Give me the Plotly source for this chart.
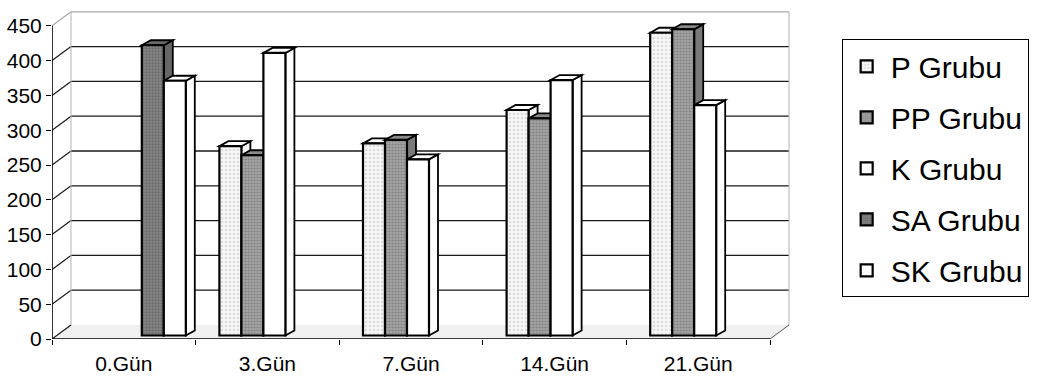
import plotly.graph_objects as go

# ---- data -------------------------------------------------------------
categories = ["0.Gün", "3.Gün", "7.Gün", "14.Gün", "21.Gün"]
series_names = ["P Grubu", "PP Grubu", "K Grubu", "SA Grubu", "SK Grubu"]
p_grubu = [None, 272, 276, 324, 435]
pp_grubu = [None, 259, 281, 312, 440]
k_grubu = [None, 406, 253, 367, 331]
sa_grubu = [417, None, None, None, None]
sk_grubu = [366, None, None, None, None]
y_ticks = [0, 50, 100, 150, 200, 250, 300, 350, 400, 450]

series_values = [p_grubu, pp_grubu, k_grubu, sa_grubu, sk_grubu]

# ---- styles -----------------------------------------------------------
front_styles = [
    dict(color="#f2f2f2", pattern=dict(shape=".", fgcolor="#c4c4c4", bgcolor="#f6f6f6", size=4, solidity=0.3)),
    dict(color="#9c9c9c", pattern=dict(shape=".", fgcolor="#5e5e5e", bgcolor="#a4a4a4", size=3, solidity=0.4)),
    dict(color="#ffffff"),
    dict(color="#7c7c7c", pattern=dict(shape=".", fgcolor="#4a4a4a", bgcolor="#888888", size=3, solidity=0.45)),
    dict(color="#ffffff"),
]
side_fill = ["#f4f4f4", "#7a7a7a", "#ffffff", "#666666", "#ffffff"]
top_fill = ["#ffffff", "#8a8a8a", "#ffffff", "#6a6a6a", "#ffffff"]

FONT = "Liberation Sans, Arial, sans-serif"

# ---- geometry of the 3-D projection (pixels) --------------------------
W, H = 1040, 378
L, R, T, B = 52, 250, 8, 39
cat_px = 143.6          # width of one category on the front plane
unit_px = 0.696         # pixels per value unit
wall_dx, wall_dy = 19, 14   # depth of the back wall
plane_dx, plane_dy = 7, 3.5  # offset of the bar plane from the front
bar_dx, bar_dy = 9, 5        # depth of a single column
bargap = 0.234

x_range = [-0.5, -0.5 + (W - L - R) / cat_px]
y_range = [0, (H - T - B) / unit_px]

ddx, ddy = wall_dx / cat_px, wall_dy / unit_px
sx, sy = plane_dx / cat_px, plane_dy / unit_px
bdx, bdy = bar_dx / cat_px, bar_dy / unit_px

n_cat = len(categories)
x_lo, x_hi = -0.5, n_cat - 0.5
v_top = y_ticks[-1]

shapes = []


def poly(pts, fill, line_color=None, width=0, xref="x", yref="y"):
    d = "M " + " L ".join(f"{px},{py}" for px, py in pts) + " Z"
    shapes.append(dict(type="path", path=d, xref=xref, yref=yref, layer="below",
                       fillcolor=fill,
                       line=dict(color=line_color or fill, width=width)))


def seg(x0, y0, x1, y1, color, width=1, xref="x", yref="y"):
    shapes.append(dict(type="line", x0=x0, y0=y0, x1=x1, y1=y1, xref=xref, yref=yref,
                       layer="below", line=dict(color=color, width=width)))


# back wall and floor
poly([(x_lo + ddx, ddy), (x_hi + ddx, ddy), (x_hi + ddx, v_top + ddy), (x_lo + ddx, v_top + ddy)], "#ffffff")
poly([(x_lo, 0), (x_hi, 0), (x_hi + ddx, ddy), (x_lo + ddx, ddy)], "#f0f0f0")

# gridlines on the back wall and their links to the value axis
for v in y_ticks:
    edge = v in (0, v_top)
    col = "#a8a8a8" if edge else "#1a1a1a"
    if v > 0:
        seg(x_lo + ddx, v + ddy, x_hi + ddx, v + ddy, col, 1.3)
    seg(x_lo, v, x_lo + ddx, v + ddy, "#a8a8a8" if v == v_top else "#1a1a1a", 1.2)
seg(x_lo + ddx, ddy, x_lo + ddx, v_top + ddy, "#b4b4b4", 1)
seg(x_hi + ddx, ddy, x_hi + ddx, v_top + ddy, "#b4b4b4", 1)
seg(x_hi, 0, x_hi + ddx, ddy, "#555555", 1)

# front axis lines
seg(x_lo, 0, x_lo, v_top, "#000000", 1.6)
seg(x_lo, 0, x_hi, 0, "#000000", 1.6)

# side and top faces of every column, left to right
slot = (1 - bargap) / len(series_values)
for i in range(n_cat):
    for j, vals in enumerate(series_values):
        v = vals[i]
        if v is None:
            continue
        xl = i - (1 - bargap) / 2 + j * slot
        xr = xl + slot
        poly([(xr, 0), (xr + bdx, bdy), (xr + bdx, v + bdy), (xr, v)], side_fill[j], "#000000", 1.8, "x2", "y2")
        poly([(xl, v), (xr, v), (xr + bdx, v + bdy), (xl + bdx, v + bdy)], top_fill[j], "#000000", 1.8, "x2", "y2")

fig = go.Figure()
for j, (name, vals) in enumerate(zip(series_names, series_values)):
    fig.add_trace(go.Bar(
        x=categories, y=vals, name=name, xaxis="x2", yaxis="y2",
        legendgroup=name,
        marker=dict(**front_styles[j], line=dict(color="#000000", width=2.2)),
        hoverinfo="skip",
    ))

fig.update_layout(
    width=W, height=H,
    margin=dict(l=L, r=R, t=T, b=B, pad=0, autoexpand=False),
    paper_bgcolor="#ffffff", plot_bgcolor="#ffffff",
    barmode="group", bargap=bargap, bargroupgap=0,
    font=dict(family=FONT, size=21, color="#000000"),
    xaxis=dict(range=x_range, tickmode="array", tickvals=list(range(n_cat)), ticktext=categories,
               showgrid=False, zeroline=False, showline=False, ticks="", ticklabelstandoff=10,
               automargin=False,
               minor=dict(tickmode="array", tickvals=[k - 0.5 for k in range(n_cat + 1)],
                          ticks="outside", ticklen=5, tickcolor="#000000", tickwidth=1.2, showgrid=False),
               tickfont=dict(size=21), fixedrange=True),
    yaxis=dict(range=y_range, tickmode="array", tickvals=y_ticks,
               showgrid=False, zeroline=False, showline=False, automargin=False,
               ticks="outside", ticklen=5, tickwidth=1.2, tickcolor="#000000",
               tickfont=dict(size=21), fixedrange=True),
    xaxis2=dict(overlaying="x", type="category", categoryorder="array", categoryarray=categories,
                range=[x_range[0] - sx, x_range[1] - sx], visible=False, fixedrange=True),
    yaxis2=dict(overlaying="y", range=[y_range[0] - sy, y_range[1] - sy], visible=False, fixedrange=True),
    shapes=shapes,
    legend=dict(x=1.07, y=0.905, xanchor="left", yanchor="top",
                bordercolor="#000000", borderwidth=1, bgcolor="#ffffff",
                font=dict(size=30, family=FONT), tracegroupgap=9, traceorder="grouped",
                itemwidth=38),
    showlegend=True,
)

fig.write_html("out.html")
